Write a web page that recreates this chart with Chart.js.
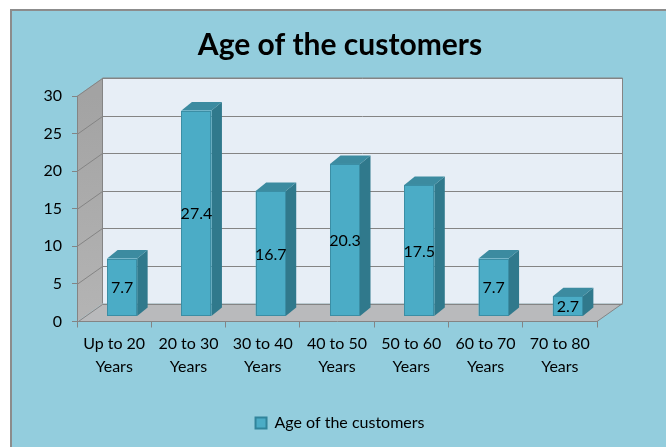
<!DOCTYPE html>
<html>
<head>
<meta charset="utf-8">
<script src="https://cdn.jsdelivr.net/npm/chart.js@4.4.1/dist/chart.umd.min.js"></script>
<style>
  html, body { margin: 0; padding: 0; background: #fff; overflow: hidden; }
  canvas { display: block; }
</style>
</head>
<body>
<canvas id="ageChart" width="666" height="447"></canvas>
<script>
// DATA
const chartTitle = 'Age of the customers';
const seriesName = 'Age of the customers';
const ageGroups = [
    ['Up to 20', 'Years'],
    ['20 to 30', 'Years'],
    ['30 to 40', 'Years'],
    ['40 to 50', 'Years'],
    ['50 to 60', 'Years'],
    ['60 to 70', 'Years'],
    ['70 to 80', 'Years']
];
const ageShare = [7.7, 27.4, 16.7, 20.3, 17.5, 7.7, 2.7];
const yTicks = [0, 5, 10, 15, 20, 25, 30];

// --- 3D LOOK ---
const DEPTH = { x: 25.5, y: -18 };      // back wall offset from the front plane
const BAR_SHIFT = { x: 8, y: -5 };      // bars sit a bit into the floor
const BAR_DEPTH = { x: 10.5, y: -8.5 }; // thickness of each box

const GRID = '#848484';

Chart.defaults.font.family = 'Lato';
Chart.defaults.color = '#000';

const walls = {
    id: 'walls',
    beforeDraw(chart) {
        const { ctx, chartArea: a, scales: { y } } = chart;
        const L = a.left, R = a.right, T = a.top, B = a.bottom;
        const dx = DEPTH.x, dy = DEPTH.y;
        ctx.save();

        // frame
        ctx.fillStyle = '#fff';
        ctx.fillRect(0, 0, chart.width, chart.height);
        ctx.fillStyle = '#93CDDD';
        ctx.fillRect(11, 10, chart.width, chart.height);
        ctx.strokeStyle = '#8c8c8c';
        ctx.lineWidth = 2;
        ctx.beginPath();
        ctx.moveTo(11, chart.height);
        ctx.lineTo(11, 10);
        ctx.lineTo(chart.width, 10);
        ctx.stroke();

        // back wall
        ctx.fillStyle = '#E7EEF6';
        ctx.fillRect(L + dx, T + dy, R - L, B - T);

        // left wall
        let g = ctx.createLinearGradient(0, T, 0, B);
        g.addColorStop(0, '#A3A3A3');
        g.addColorStop(1, '#B4B4B4');
        ctx.fillStyle = g;
        ctx.beginPath();
        ctx.moveTo(L, T); ctx.lineTo(L + dx, T + dy); ctx.lineTo(L + dx, B + dy); ctx.lineTo(L, B);
        ctx.closePath();
        ctx.fill();

        // floor
        ctx.fillStyle = '#B9BABC';
        ctx.beginPath();
        ctx.moveTo(L, B); ctx.lineTo(L + dx, B + dy); ctx.lineTo(R + dx, B + dy); ctx.lineTo(R, B);
        ctx.closePath();
        ctx.fill();

        // gridlines on left wall + back wall
        ctx.strokeStyle = GRID;
        ctx.lineWidth = 1;
        yTicks.forEach(v => {
            const py = Math.round(y.getPixelForValue(v)) + 0.5;
            ctx.beginPath();
            ctx.moveTo(L, py);
            ctx.lineTo(L + dx, py + dy);
            ctx.lineTo(R + dx, py + dy);
            ctx.stroke();
        });

        // outlines
        ctx.beginPath();
        ctx.moveTo(L + dx, B + dy); ctx.lineTo(L + dx, T + dy); ctx.lineTo(R + dx, T + dy); ctx.lineTo(R + dx, B + dy);
        ctx.lineTo(R, B);
        ctx.stroke();
        ctx.restore();
    },
    beforeDatasetsDraw(chart) {
        const ctx = chart.ctx;
        const meta = chart.getDatasetMeta(0);
        ctx.save();
        meta.data.forEach((bar, i) => {
            const { x, y, base, width } = bar.getProps(['x', 'y', 'base', 'width'], true);
            const l = x - width / 2 + BAR_SHIFT.x, r = l + width;
            const t = y + BAR_SHIFT.y, b = base + BAR_SHIFT.y;
            const ddx = BAR_DEPTH.x, ddy = BAR_DEPTH.y;

            // side
            ctx.fillStyle = '#30798C';
            ctx.beginPath();
            ctx.moveTo(r, t); ctx.lineTo(r + ddx, t + ddy); ctx.lineTo(r + ddx, b + ddy); ctx.lineTo(r, b);
            ctx.closePath();
            ctx.fill();

            // top
            ctx.fillStyle = '#3C8BA0';
            ctx.beginPath();
            ctx.moveTo(l, t); ctx.lineTo(l + ddx, t + ddy); ctx.lineTo(r + ddx, t + ddy); ctx.lineTo(r, t);
            ctx.closePath();
            ctx.fill();

            // front
            ctx.fillStyle = '#4BACC6';
            ctx.fillRect(l, t, width, b - t);
            ctx.strokeStyle = '#3B8EA5';
            ctx.lineWidth = 1;
            ctx.strokeRect(Math.round(l) + 0.5, Math.round(t) + 0.5, Math.round(width) - 1, Math.round(b - t) - 1);

            // value label
            ctx.fillStyle = '#000';
            ctx.font = '16px Lato';
            ctx.textAlign = 'center';
            ctx.textBaseline = 'middle';
            ctx.fillText(String(ageShare[i]), (l + r) / 2, (t + b) / 2 + 1);
        });
        ctx.restore();
        return false;
    }
};

new Chart(document.getElementById('ageChart'), {
    type: 'bar',
    data: {
        labels: ageGroups,
        datasets: [{
            label: seriesName,
            data: ageShare,
            backgroundColor: '#4BACC6',
            borderColor: '#31849B',
            borderWidth: 2,
            categoryPercentage: 1,
            barPercentage: 0.404
        }]
    },
    options: {
        responsive: false,
        animation: false,
        layout: { padding: { left: 14, right: 0, top: 0, bottom: 6 } },
        plugins: {
            title: {
                display: true,
                text: chartTitle,
                color: '#000',
                font: { family: 'Lato', size: 30, weight: 'bold' },
                padding: { top: 27, bottom: 33 }
            },
            legend: {
                position: 'bottom',
                labels: {
                    color: '#000',
                    font: { family: 'Lato', size: 16 },
                    boxWidth: 11,
                    boxHeight: 11,
                    padding: 10
                }
            },
            tooltip: { enabled: false }
        },
        scales: {
            x: {
                grid: { display: true, drawOnChartArea: false, drawTicks: true, tickLength: 6, color: GRID, offset: true },
                border: { display: true, color: GRID },
                ticks: { color: '#000', font: { size: 16, lineHeight: 1.45 }, padding: 5, autoSkip: false, maxRotation: 0 },
                afterFit(s) { s.height = 83.5; }
            },
            y: {
                min: 0,
                max: 30,
                afterBuildTicks(s) { s.ticks = yTicks.map(v => ({ value: v })); },
                grid: { drawOnChartArea: false, drawTicks: true, tickLength: 5, color: GRID },
                border: { display: true, color: GRID },
                ticks: { color: '#000', font: { size: 16 }, padding: 10 },
                afterFit(s) { s.width = 63; }
            },
            // empty axis on the right, only keeps room for the 3d depth
            yPad: {
                type: 'linear',
                position: 'right',
                axis: 'y',
                display: true,
                grid: { display: false },
                border: { display: false },
                ticks: { display: false },
                afterFit(s) { s.width = 69; }
            }
        }
    },
    plugins: [walls]
});
</script>
</body>
</html>
